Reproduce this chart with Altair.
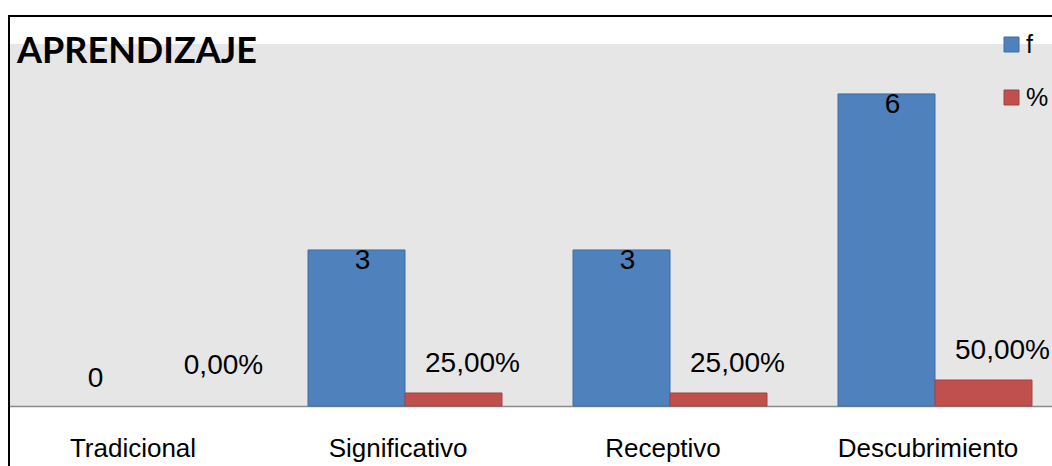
import altair as alt
import pandas as pd

categories = ["Tradicional", "Significativo", "Receptivo", "Descubrimiento"]
series_names = ["f", "%"]
f_values = [0, 3, 3, 6]
pct_values = [0.0, 0.25, 0.25, 0.50]
title_text = "APRENDIZAJE"

rows = []
for c, v in zip(categories, f_values):
    rows.append({"category": c, "series": "f", "value": v, "label": str(v)})
for c, v in zip(categories, pct_values):
    rows.append({"category": c, "series": "%", "value": v,
                 "label": f"{v * 100:.2f}%".replace(".", ",")})
df = pd.DataFrame(rows)

BLUE, RED = "#4F81BD", "#C0504D"
FONT = "Liberation Sans"

x_enc = alt.X(
    "category:N", sort=categories,
    scale=alt.Scale(domain=categories, range=[-2.5, 1057.5],
                    paddingInner=0.268, paddingOuter=0.134),
    axis=alt.Axis(title=None, ticks=False, tickSize=0, labelAngle=0,
                  labelFont=FONT, labelFontSize=26, labelColor="black",
                  labelPadding=50, labelBaseline="alphabetic", labelOffset=-7,
                  labelLimit=0, domainColor="#8a8a8a", domainWidth=1.5, grid=False),
)
xo_enc = alt.XOffset("series:N", scale=alt.Scale(domain=series_names))
y_enc = alt.Y("value:Q", scale=alt.Scale(domain=[0, 6.96], nice=False), axis=None)

base = alt.Chart(df)

bars = base.transform_filter("datum.value > 0").mark_bar(strokeWidth=1).encode(
    x=x_enc, xOffset=xo_enc, y=y_enc,
    color=alt.Color("series:N", scale=alt.Scale(domain=series_names, range=[BLUE, RED]),
                    legend=alt.Legend(title=None, orient="none", legendX=989, legendY=-12,
                                      symbolType="square", symbolSize=225,
                                      labelFont=FONT, labelFontSize=25, labelColor="black",
                                      rowPadding=27, labelOffset=2, padding=0,
                                      symbolStrokeWidth=1, symbolStrokeColor="#555555")),
    stroke=alt.Stroke("series:N", scale=alt.Scale(domain=series_names,
                                                   range=["#3E6DA6", "#A5423F"]), legend=None),
)

def labels(series, zero, dx, dy):
    cond = f"datum.series == '{series}' && datum.value {'==' if zero else '>'} 0"
    return base.transform_filter(cond).mark_text(
        font=FONT, fontSize=28, color="black", baseline="alphabetic",
        align="center", dx=dx, dy=dy,
    ).encode(x=x_enc, xOffset=xo_enc, y=y_enc, text="label:N")

lab_f = labels("f", False, 6, 19)
lab_f0 = labels("f", True, 4, -19)
lab_p = labels("%", False, 19, -21)
lab_p0 = labels("%", True, 35, -32)

one = pd.DataFrame({"t": [title_text]})
title = alt.Chart(one).mark_text(
    font="Lato", fontSize=36, fontWeight="bold", color="black",
    align="left", baseline="alphabetic",
).encode(x=alt.value(7), y=alt.value(19), text="t:N")

frame_top = alt.Chart(one).mark_rule(color="black", strokeWidth=2).encode(
    x=alt.value(-2), x2=alt.value(1050), y=alt.value(-28))
frame_left = alt.Chart(one).mark_rule(color="black", strokeWidth=2).encode(
    x=alt.value(-1), y=alt.value(-29), y2=alt.value(430))

chart = alt.layer(bars, lab_f, lab_f0, lab_p, lab_p0, title, frame_top, frame_left).properties(
    width=1042, height=362,
    autosize=alt.AutoSizeParams(type="none"),
    padding={"left": 10, "top": 44, "right": 0, "bottom": 60},
    background="white",
).configure_view(fill="#E6E6E6", stroke=None)

chart.save("out.html", embed_options={"renderer": "svg", "actions": False})
